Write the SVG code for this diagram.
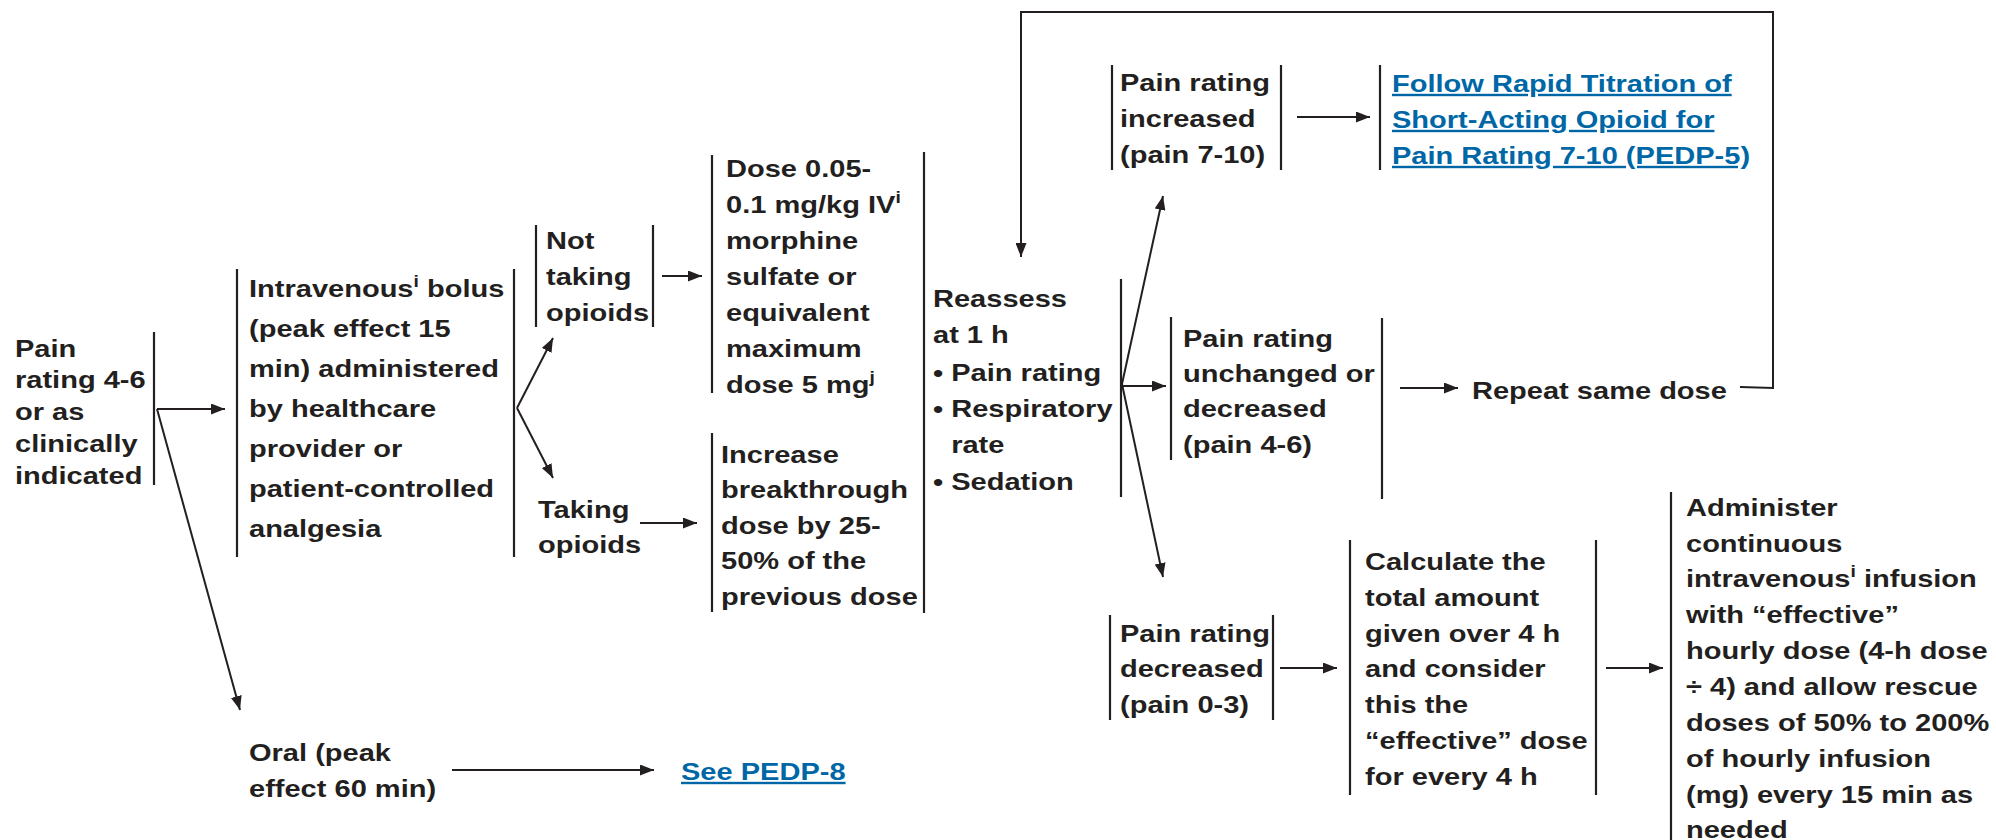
<svg xmlns="http://www.w3.org/2000/svg" width="1996" height="840" viewBox="0 0 1996 840">
  <defs>
    <style>
      .t { font-family: "Liberation Sans", Arial, sans-serif; font-weight: bold; font-size: 24px; fill: #231f20; }
      .lk { fill: #0067a6; text-decoration: underline; }
      .sup { font-size: 16px; }
      .bar { stroke: #231f20; stroke-width: 2.2; fill: none; }
      .arr { stroke: #231f20; stroke-width: 2; fill: none; marker-end: url(#ah); }
    </style>
    <marker id="ah" markerUnits="userSpaceOnUse" markerWidth="14" markerHeight="11" refX="14" refY="5.5" orient="auto">
      <path d="M0,0 L14,5.5 L0,11 Z" fill="#231f20"/>
    </marker>
  </defs>
  <rect width="1996" height="840" fill="#ffffff"/>

  <!-- connectors -->
  <g id="connectors">
    <path class="arr" d="M157,409 H225"/>
    <path class="arr" d="M157,409 L240,710"/>
    <path class="arr" d="M517,408 L553,338"/>
    <path class="arr" d="M517,408 L553,478"/>
    <path class="arr" d="M662,276 H702"/>
    <path class="arr" d="M640,523 H697"/>
    <path class="arr" d="M1122,384 L1163,196"/>
    <path class="arr" d="M1122,386 H1166"/>
    <path class="arr" d="M1122,384 L1163,577"/>
    <path class="arr" d="M1297,117 H1370"/>
    <path class="arr" d="M1400,388 H1458"/>
    <path class="arr" d="M1740,387 L1773,388 V12 H1021 V257"/>
    <path class="arr" d="M1280,668 H1337"/>
    <path class="arr" d="M1606,668 H1663"/>
    <path class="arr" d="M452,770 H654"/>
  </g>

  <!-- start -->
  <g id="node-start">
    <line class="bar" x1="154" y1="332" x2="154" y2="485"/>
    <text class="t" transform="translate(15 0) scale(1.21 1)">
      <tspan x="0" y="357">Pain</tspan>
      <tspan x="0" y="388">rating 4-6</tspan>
      <tspan x="0" y="420">or as</tspan>
      <tspan x="0" y="452">clinically</tspan>
      <tspan x="0" y="484">indicated</tspan>
    </text>
  </g>

  <g id="node-iv-bolus">
    <line class="bar" x1="237" y1="269" x2="237" y2="557"/>
    <line class="bar" x1="514" y1="269" x2="514" y2="557"/>
    <text class="t" transform="translate(249 0) scale(1.21 1)">
      <tspan x="0" y="297">Intravenous</tspan><tspan class="sup" dy="-10">i</tspan><tspan dy="10"> bolus</tspan>
      <tspan x="0" y="337">(peak effect 15</tspan>
      <tspan x="0" y="377">min) administered</tspan>
      <tspan x="0" y="417">by healthcare</tspan>
      <tspan x="0" y="457">provider or</tspan>
      <tspan x="0" y="497">patient-controlled</tspan>
      <tspan x="0" y="537">analgesia</tspan>
    </text>
  </g>

  <g id="node-not-taking">
    <line class="bar" x1="536" y1="225" x2="536" y2="327"/>
    <line class="bar" x1="653" y1="225" x2="653" y2="327"/>
    <text class="t" transform="translate(546 0) scale(1.21 1)">
      <tspan x="0" y="249">Not</tspan>
      <tspan x="0" y="285">taking</tspan>
      <tspan x="0" y="321">opioids</tspan>
    </text>
  </g>

  <g id="node-taking">
    <text class="t" transform="translate(538 0) scale(1.21 1)">
      <tspan x="0" y="518">Taking</tspan>
      <tspan x="0" y="553">opioids</tspan>
    </text>
  </g>

  <g id="node-dose">
    <line class="bar" x1="712" y1="155" x2="712" y2="393"/>
    <text class="t" transform="translate(726 0) scale(1.21 1)">
      <tspan x="0" y="177">Dose 0.05-</tspan>
      <tspan x="0" y="213">0.1 mg/kg IV</tspan><tspan class="sup" dy="-10">i</tspan>
      <tspan x="0" y="249">morphine</tspan>
      <tspan x="0" y="285">sulfate or</tspan>
      <tspan x="0" y="321">equivalent</tspan>
      <tspan x="0" y="357">maximum</tspan>
      <tspan x="0" y="393">dose 5 mg</tspan><tspan class="sup" dy="-10">j</tspan>
    </text>
  </g>

  <g id="node-increase">
    <line class="bar" x1="712" y1="433" x2="712" y2="612"/>
    <text class="t" transform="translate(721 0) scale(1.21 1)">
      <tspan x="0" y="463">Increase</tspan>
      <tspan x="0" y="498">breakthrough</tspan>
      <tspan x="0" y="534">dose by 25-</tspan>
      <tspan x="0" y="569">50% of the</tspan>
      <tspan x="0" y="605">previous dose</tspan>
    </text>
  </g>

  <g id="node-reassess">
    <line class="bar" x1="924" y1="152" x2="924" y2="613"/>
    <line class="bar" x1="1121" y1="279" x2="1121" y2="497"/>
    <text class="t" transform="translate(933 0) scale(1.21 1)">
      <tspan x="0" y="307">Reassess</tspan>
      <tspan x="0" y="343">at 1 h</tspan>
      <tspan x="0" y="381">• Pain rating</tspan>
      <tspan x="0" y="417">• Respiratory</tspan>
      <tspan x="15" y="453">rate</tspan>
      <tspan x="0" y="490">• Sedation</tspan>
    </text>
  </g>

  <g id="node-increased">
    <line class="bar" x1="1112" y1="65" x2="1112" y2="170"/>
    <line class="bar" x1="1281" y1="65" x2="1281" y2="170"/>
    <text class="t" transform="translate(1120 0) scale(1.21 1)">
      <tspan x="0" y="91">Pain rating</tspan>
      <tspan x="0" y="127">increased</tspan>
      <tspan x="0" y="163">(pain 7-10)</tspan>
    </text>
  </g>

  <g id="node-pedp5">
    <line class="bar" x1="1380" y1="65" x2="1380" y2="170"/>
    <text class="t lk" transform="translate(1392 0) scale(1.21 1)"><tspan x="0" y="92">Follow Rapid Titration of</tspan><tspan x="0" y="128">Short-Acting Opioid for</tspan><tspan x="0" y="164">Pain Rating 7-10 (PEDP-5)</tspan></text>
  </g>

  <g id="node-unchanged">
    <line class="bar" x1="1171" y1="317" x2="1171" y2="460"/>
    <line class="bar" x1="1382" y1="318" x2="1382" y2="499"/>
    <text class="t" transform="translate(1183 0) scale(1.21 1)">
      <tspan x="0" y="347">Pain rating</tspan>
      <tspan x="0" y="382">unchanged or</tspan>
      <tspan x="0" y="417">decreased</tspan>
      <tspan x="0" y="453">(pain 4-6)</tspan>
    </text>
  </g>

  <g id="node-repeat">
    <text class="t" transform="translate(1472 0) scale(1.21 1)" y="399">Repeat same dose</text>
  </g>

  <g id="node-decreased">
    <line class="bar" x1="1110" y1="615" x2="1110" y2="720"/>
    <line class="bar" x1="1273" y1="615" x2="1273" y2="720"/>
    <text class="t" transform="translate(1120 0) scale(1.21 1)">
      <tspan x="0" y="642">Pain rating</tspan>
      <tspan x="0" y="677">decreased</tspan>
      <tspan x="0" y="713">(pain 0-3)</tspan>
    </text>
  </g>

  <g id="node-calculate">
    <line class="bar" x1="1350" y1="540" x2="1350" y2="795"/>
    <line class="bar" x1="1596" y1="540" x2="1596" y2="795"/>
    <text class="t" transform="translate(1365 0) scale(1.21 1)">
      <tspan x="0" y="570">Calculate the</tspan>
      <tspan x="0" y="606">total amount</tspan>
      <tspan x="0" y="642">given over 4 h</tspan>
      <tspan x="0" y="677">and consider</tspan>
      <tspan x="0" y="713">this the</tspan>
      <tspan x="0" y="749">“effective” dose</tspan>
      <tspan x="0" y="785">for every 4 h</tspan>
    </text>
  </g>

  <g id="node-infusion">
    <line class="bar" x1="1671" y1="492" x2="1671" y2="840"/>
    <text class="t" transform="translate(1686 0) scale(1.21 1)">
      <tspan x="0" y="516">Administer</tspan>
      <tspan x="0" y="552">continuous</tspan>
      <tspan x="0" y="587">intravenous</tspan><tspan class="sup" dy="-10">i</tspan><tspan dy="10"> infusion</tspan>
      <tspan x="0" y="623">with “effective”</tspan>
      <tspan x="0" y="659">hourly dose (4-h dose</tspan>
      <tspan x="0" y="695">÷ 4) and allow rescue</tspan>
      <tspan x="0" y="731">doses of 50% to 200%</tspan>
      <tspan x="0" y="767">of hourly infusion</tspan>
      <tspan x="0" y="803">(mg) every 15 min as</tspan>
      <tspan x="0" y="838">needed</tspan>
    </text>
  </g>

  <g id="node-oral">
    <text class="t" transform="translate(249 0) scale(1.21 1)">
      <tspan x="0" y="761">Oral (peak</tspan>
      <tspan x="0" y="797">effect 60 min)</tspan>
    </text>
  </g>

  <g id="node-pedp8">
    <text class="t lk" transform="translate(681 0) scale(1.21 1)" y="780">See PEDP-8</text>
  </g>
</svg>
